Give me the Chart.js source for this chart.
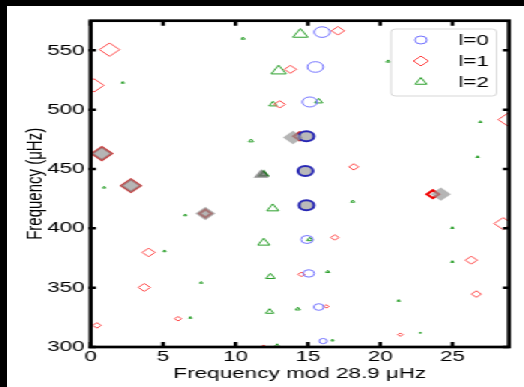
<!DOCTYPE html>
<html>
<head>
<meta charset="utf-8">
<script src="https://cdn.jsdelivr.net/npm/chart.js@4.4.0/dist/chart.umd.min.js"></script>
<style>
  html, body { margin: 0; padding: 0; background: #000; width: 524px; height: 387px; overflow: hidden; }
  /* the reference figure is stretched sideways, so the chart is drawn narrow and scaled */
  #wrap { position: absolute; left: 7px; top: 6px; width: 345px; height: 381px;
          transform: scaleX(1.5); transform-origin: 0 0; background: #fff; }
</style>
</head>
<body>
<div id="wrap"><canvas id="echelle" width="345" height="381"></canvas></div>
<script>
// l=0 modes: frequency mod 28.9, frequency (uHz), relative height
const l0X = [15.98, 15.52, 15.13, 14.90, 14.83, 14.90, 14.94, 15.06, 15.75, 16.05];
const l0Y = [565.4, 536.0, 506.5, 477.6, 448.4, 419.5, 390.6, 362.0, 333.7, 305.0];
const l0H = [10.6, 10.6, 10.0, 10.0, 10.0, 10.0, 8.0, 7.4, 6.6, 5.2];
const l0Fit = [3, 4, 5];

// l=1 modes
const l1X = [17.08, 1.30, 0.22, 13.79, 13.05, 28.85, 14.43, 0.77, 2.78, 7.92, 23.65, 18.17,
             28.50, 16.86, 4.00, 26.30, 3.70, 14.55, 26.65, 16.28, 0.43, 6.03, 21.39, 11.94];
const l1Y = [566.5, 550.6, 520.5, 534.0, 504.5, 491.6, 477.6, 463.0, 436.0, 412.5, 428.8, 451.8,
             404.0, 392.3, 379.7, 373.2, 350.2, 361.2, 344.6, 334.2, 318.2, 323.8, 310.4, 300.3];
const l1H = [8.6, 13.4, 13.4, 8.0, 7.4, 13.4, 8.0, 13.0, 12.6, 8.0, 8.0, 6.4,
             12.0, 5.4, 8.6, 8.0, 8.0, 4.6, 6.6, 3.4, 5.6, 4.6, 3.4, 3.4];
const l1Fit = [6, 7, 8, 9];
const l1Strong = [10];

// l=2 modes
const l2X = [14.48, 10.52, 20.54, 12.98, 2.22, 12.59, 15.74, 26.93, 11.07, 26.74, 11.95, 14.64,
             0.93, 18.10, 12.57, 6.53, 24.99, 11.95, 15.13, 5.10, 24.99, 12.41, 16.37, 7.63,
             12.36, 14.30, 6.88, 21.28, 16.70, 22.78, 12.87];
const l2Y = [563.5, 560.0, 540.7, 532.6, 522.8, 504.5, 507.0, 489.7, 473.7, 460.2, 445.6, 448.4,
             434.4, 422.6, 416.7, 411.1, 400.4, 387.8, 390.6, 380.8, 371.8, 359.2, 363.4, 354.2,
             329.7, 332.0, 324.7, 339.0, 305.6, 312.0, 300.8];
const l2H = [11.6, 3.0, 3.0, 11.6, 2.4, 6.2, 6.2, 2.4, 3.8, 2.4, 6.2, 5.4,
             2.4, 3.0, 9.2, 2.4, 2.4, 9.2, 4.6, 2.4, 2.4, 7.0, 3.0, 2.4,
             6.2, 3.8, 2.4, 2.4, 2.4, 1.6, 4.6];
const l2Fit = [10];

// model frequencies (grey)
const modelDiaX = [13.97, 0.77, 2.78, 7.92, 24.20];
const modelDiaY = [476.5, 463.0, 436.0, 412.5, 428.8];
const modelTriX = [11.77];
const modelTriY = [445.0];

const xTicks = [0, 5, 10, 15, 20, 25];
const yTicks = [300, 350, 400, 450, 500, 550];

const FONT = '"Liberation Sans", Arial, sans-serif';
const SIZE = 0.5;
const BLUE = 'rgb(115,115,255)', DARK_BLUE = 'rgb(40,40,180)';
const RED = 'rgb(255,70,70)', DARK_RED = 'rgb(200,45,45)', STRONG_RED = 'rgb(240,0,0)';
const GREEN = 'rgb(45,160,45)', DARK_GREEN = 'rgb(20,110,20)';
const GREY = 'rgba(150,150,150,0.7)';

function pts(xs, ys) { return xs.map((x, i) => ({x: x, y: ys[i]})); }

const datasets = [
  {
    label: 'model D', data: pts(modelDiaX, modelDiaY), pointStyle: 'rectRot',
    pointRadius: 6.7, pointBackgroundColor: GREY, pointBorderWidth: 0, clip: 0
  },
  {
    label: 'model T', data: pts(modelTriX, modelTriY), pointStyle: 'triangle',
    pointRadius: 5.8, pointBackgroundColor: 'rgba(120,120,120,0.8)', pointBorderWidth: 0, clip: 0
  },
  {
    label: 'l=0', data: pts(l0X, l0Y), pointStyle: 'circle',
    pointRadius: c => l0H[c.dataIndex] * SIZE,
    pointBorderColor: c => l0Fit.includes(c.dataIndex) ? DARK_BLUE : BLUE,
    pointBackgroundColor: c => l0Fit.includes(c.dataIndex) ? 'rgb(185,185,185)' : 'rgba(0,0,0,0)',
    pointBorderWidth: c => l0Fit.includes(c.dataIndex) ? 2 : 1, clip: 0
  },
  {
    label: 'l=1', data: pts(l1X, l1Y), pointStyle: 'rectRot',
    pointRadius: c => l1H[c.dataIndex] * SIZE,
    pointBorderColor: c => l1Fit.includes(c.dataIndex) ? DARK_RED :
      (l1Strong.includes(c.dataIndex) ? STRONG_RED : RED),
    pointBackgroundColor: 'rgba(0,0,0,0)',
    pointBorderWidth: c => (l1Fit.includes(c.dataIndex) || l1Strong.includes(c.dataIndex)) ? 2 : 1, clip: 0
  },
  {
    label: 'l=2', data: pts(l2X, l2Y), pointStyle: 'triangle',
    pointRadius: c => l2H[c.dataIndex] * SIZE,
    pointBorderColor: c => l2Fit.includes(c.dataIndex) ? DARK_GREEN : GREEN,
    pointBackgroundColor: 'rgba(0,0,0,0)',
    pointBorderWidth: c => l2Fit.includes(c.dataIndex) ? 1.6 : 1, clip: 0
  }
];

// axes frame with inward ticks on all four sides
const frame = {
  id: 'frame',
  afterDatasetsDraw(chart) {
    const {ctx, chartArea: a, scales: {x, y}} = chart;
    ctx.save();
    ctx.strokeStyle = '#000';
    ctx.lineWidth = 2.5;
    ctx.beginPath();
    x.ticks.forEach(t => {
      const px = x.getPixelForValue(t.value);
      ctx.moveTo(px, a.bottom); ctx.lineTo(px, a.bottom - 5);
      ctx.moveTo(px, a.top); ctx.lineTo(px, a.top + 5);
    });
    y.ticks.forEach(t => {
      const py = y.getPixelForValue(t.value);
      ctx.moveTo(a.left - 1.5, py); ctx.lineTo(a.left + 3.5, py);
      ctx.moveTo(a.right, py); ctx.lineTo(a.right - 4, py);
    });
    ctx.stroke();
    ctx.lineWidth = 2.7;
    ctx.strokeRect(a.left, a.top, a.right - a.left, a.bottom - a.top);
    ctx.restore();
  }
};

// matplotlib-style legend box in the upper right
const boxLegend = {
  id: 'boxLegend',
  afterDraw(chart) {
    const ctx = chart.ctx;
    const items = chart.data.datasets.filter(d => d.label.startsWith('l='));
    const bx = 256, by = 23, bw = 70.5, bh = 67;
    ctx.save();
    ctx.fillStyle = 'rgba(255,255,255,0.85)';
    ctx.strokeStyle = 'rgb(215,215,215)';
    ctx.lineWidth = 1;
    ctx.beginPath();
    ctx.roundRect(bx, by, bw, bh, 3);
    ctx.fill();
    ctx.stroke();
    ctx.font = '15px ' + FONT;
    ctx.textBaseline = 'middle';
    ctx.fillStyle = '#000';
    items.forEach((d, i) => {
      const ry = 34 + i * 21;
      const col = [BLUE, RED, GREEN][i];
      ctx.strokeStyle = col;
      ctx.fillStyle = 'rgba(0,0,0,0)';
      Chart.helpers.drawPoint(ctx, {pointStyle: d.pointStyle, radius: [4, 5, 4.5][i], borderWidth: 1, rotation: 0}, 276, ry);
      ctx.fillStyle = '#000';
      ctx.fillText(d.label, 301, ry + 1);
    });
    ctx.restore();
  }
};

new Chart(document.getElementById('echelle'), {
  type: 'scatter',
  data: { datasets: datasets },
  options: {
    responsive: false,
    animation: false,
    events: [],
    layout: { padding: { top: 14.7, right: 10.3, left: 0, bottom: 0 } },
    plugins: { legend: { display: false }, tooltip: { enabled: false } },
    scales: {
      x: {
        type: 'linear', min: 0, max: 28.9,
        afterBuildTicks: s => { s.ticks = xTicks.map(v => ({value: v})); },
        afterFit: s => { s.height = 40; },
        ticks: { color: '#000', padding: 1, maxRotation: 0, font: { family: FONT, size: 15 } },
        grid: { display: false, drawTicks: false },
        border: { display: false },
        title: { display: true, text: 'Frequency mod 28.9 μHz', color: '#000',
                 font: { family: FONT, size: 15 }, padding: { top: 0, bottom: 4 } }
      },
      y: {
        type: 'linear', min: 300, max: 575,
        afterBuildTicks: s => { s.ticks = yTicks.map(v => ({value: v})); },
        afterFit: s => { s.width = 55.7; },
        ticks: { color: '#000', padding: 4, font: { family: FONT, size: 15 } },
        grid: { display: false, drawTicks: false },
        border: { display: false },
        title: { display: true, text: 'Frequency (μHz)', color: '#000',
                 font: { family: FONT, size: 15 }, padding: { top: 9.5, bottom: 0 } }
      }
    }
  },
  plugins: [frame, boxLegend]
});
</script>
</body>
</html>
